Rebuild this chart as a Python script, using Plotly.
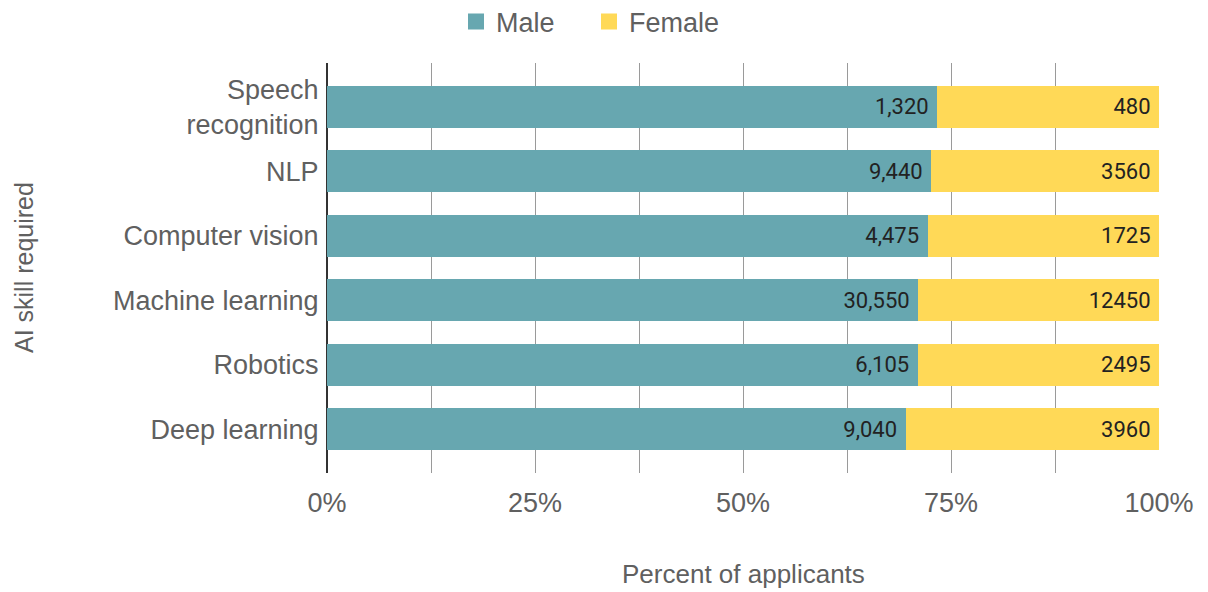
import plotly.graph_objects as go

categories = ["Deep learning", "Robotics", "Machine learning", "Computer vision", "NLP", "Speech<br>recognition"]
male = [9040, 6105, 30550, 4475, 9440, 1320]
female = [3960, 2495, 12450, 1725, 3560, 480]
x_ticks = [0, 25, 50, 75, 100]
x_tick_labels = ["0%", "25%", "50%", "75%", "100%"]

MALE_C = "#67A7B0"
FEMALE_C = "#FFD957"
TXT = "#606060"
FONT = "Liberation Sans, Arial, sans-serif"
NB = "\u00a0"

W, H = 1200, 584   # page adds an 8px body margin
L, R, T, B = 319, 49, 55, 119
PH = H - T - B
PW = W - L - R

fig = go.Figure()
fig.add_trace(go.Bar(
    y=categories, x=male, orientation="h", name="Male",
    marker=dict(color=MALE_C, line=dict(width=0)),
    text=[f"{v:,}" + NB for v in male], textposition="inside", insidetextanchor="end",
    textfont=dict(size=22, color="#222222", family="Roboto"), showlegend=False,
    hoverinfo="x+y",
))
fig.add_trace(go.Bar(
    y=categories, x=female, orientation="h", name="Female",
    marker=dict(color=FEMALE_C, line=dict(width=0)),
    text=[str(v) + NB for v in female], textposition="inside", insidetextanchor="end",
    textfont=dict(size=22, color="#222222", family="Roboto"), showlegend=False,
    hoverinfo="x+y",
))
# legend entries with square symbols
for nm, c in [("Male", MALE_C), ("Female", FEMALE_C)]:
    fig.add_trace(go.Scatter(x=[None], y=[None], mode="markers", name=nm,
                             marker=dict(symbol="square", size=22, color=c)))

fig.update_layout(
    width=W, height=H,
    barmode="stack", barnorm="percent", bargap=0.35,
    paper_bgcolor="white", plot_bgcolor="white",
    margin=dict(l=L, r=R, t=T, b=B),
    font=dict(family=FONT, size=27, color=TXT),
    uniformtext=dict(mode="show", minsize=10),
    legend=dict(orientation="h", traceorder="normal",
                xref="container", yref="container",
                x=448 / W, xanchor="left", y=1 - 14 / H, yanchor="middle",
                font=dict(size=27, color=TXT, family=FONT), itemsizing="trace",
                entrywidth=88, entrywidthmode="pixels",
                tracegroupgap=0, bgcolor="rgba(0,0,0,0)"),
    xaxis=dict(range=[0, 100], tickvals=x_ticks, ticktext=x_tick_labels,
               showgrid=True, gridcolor="#9a9a9a", gridwidth=1,
               minor=dict(dtick=12.5, tick0=0, showgrid=True, gridcolor="#9a9a9a", gridwidth=1),
               zeroline=True, zerolinecolor="#333333", zerolinewidth=1.5,
               ticks="outside", ticklen=6, tickcolor="rgba(0,0,0,0)",
               tickfont=dict(size=27, color=TXT, family=FONT), fixedrange=True),
    yaxis=dict(range=[-0.68, 5.68], showgrid=False, ticks="outside", ticklen=2,
               tickcolor="rgba(0,0,0,0)", tickfont=dict(size=27, color=TXT, family=FONT),
               fixedrange=True),
    annotations=[
        dict(text="Percent of applicants", xref="paper", yref="paper", x=0.5,
             y=-(566 - (T + PH)) / PH,
             xanchor="center", yanchor="middle", showarrow=False,
             font=dict(size=26, color=TXT, family=FONT)),
        dict(text="AI skill required", xref="paper", yref="paper", x=(16 - L) / PW, y=0.5,
             xanchor="center", yanchor="middle", textangle=-90, showarrow=False,
             font=dict(size=25, color=TXT, family=FONT)),
    ],
)

fig.write_html("out.html")
